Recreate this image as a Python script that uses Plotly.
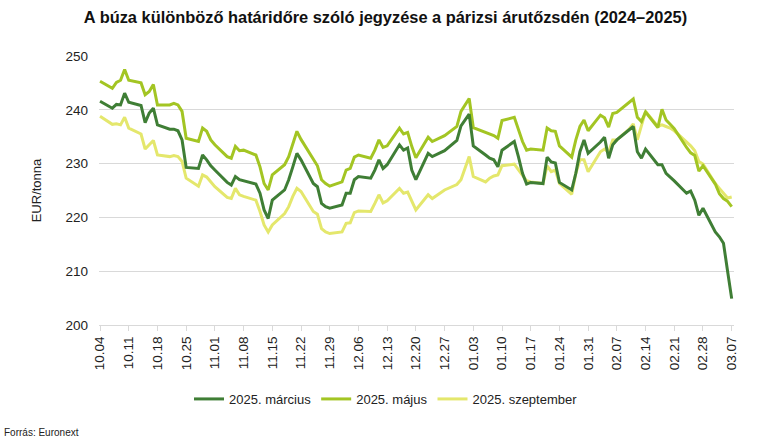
import plotly.graph_objects as go

dates = [
    "2024-10-04", "2024-10-07", "2024-10-08", "2024-10-09", "2024-10-10", "2024-10-11",
    "2024-10-14", "2024-10-15", "2024-10-16", "2024-10-17", "2024-10-18",
    "2024-10-21", "2024-10-22", "2024-10-23", "2024-10-24", "2024-10-25",
    "2024-10-28", "2024-10-29", "2024-10-30", "2024-10-31", "2024-11-01",
    "2024-11-04", "2024-11-05", "2024-11-06", "2024-11-07", "2024-11-08",
    "2024-11-11", "2024-11-12", "2024-11-13", "2024-11-14", "2024-11-15",
    "2024-11-18", "2024-11-19", "2024-11-20", "2024-11-21", "2024-11-22",
    "2024-11-25", "2024-11-26", "2024-11-27", "2024-11-28", "2024-11-29",
    "2024-12-02", "2024-12-03", "2024-12-04", "2024-12-05", "2024-12-06",
    "2024-12-09", "2024-12-10", "2024-12-11", "2024-12-12", "2024-12-13",
    "2024-12-16", "2024-12-17", "2024-12-18", "2024-12-19", "2024-12-20",
    "2024-12-23", "2024-12-24", "2024-12-27", "2024-12-30", "2024-12-31",
    "2025-01-02", "2025-01-03",
    "2025-01-06", "2025-01-07", "2025-01-08", "2025-01-09", "2025-01-10",
    "2025-01-13", "2025-01-14", "2025-01-15", "2025-01-16", "2025-01-17",
    "2025-01-20", "2025-01-21", "2025-01-22", "2025-01-23", "2025-01-24",
    "2025-01-27", "2025-01-28", "2025-01-29", "2025-01-30", "2025-01-31",
    "2025-02-03", "2025-02-04", "2025-02-05", "2025-02-06", "2025-02-07",
    "2025-02-10", "2025-02-11", "2025-02-12", "2025-02-13", "2025-02-14",
    "2025-02-17", "2025-02-18", "2025-02-19", "2025-02-20", "2025-02-21",
    "2025-02-24", "2025-02-25", "2025-02-26", "2025-02-27", "2025-02-28",
    "2025-03-03", "2025-03-04", "2025-03-05", "2025-03-06", "2025-03-07",
]

marcius = [
    241.6, 240.3, 241.0, 240.9, 243.1, 241.4,
    240.8, 237.6, 239.4, 240.3, 237.2,
    236.4, 236.4, 236.1, 234.4, 229.3,
    229.1, 231.6, 230.7, 229.6, 228.8,
    226.5, 226.0, 227.6, 227.0, 226.8,
    226.2, 224.5, 221.4, 219.8, 223.2,
    225.1, 227.0, 229.4, 231.9, 230.7,
    226.3, 225.7, 222.6, 222.0, 221.7,
    222.3, 224.5, 224.5, 227.0, 227.6,
    227.3, 228.8, 230.7, 229.1, 229.8,
    233.5, 232.5, 232.9, 228.8, 227.0,
    231.9, 231.3, 232.4, 234.3, 237.0,
    239.2, 233.3,
    231.6, 231.0, 230.7, 229.4, 232.5,
    234.1, 231.3, 228.2, 226.2, 226.5,
    226.3, 231.2, 230.3, 230.1, 226.5,
    225.1, 228.2, 232.2, 234.4, 231.9,
    234.0, 234.9, 231.0, 233.5, 234.4,
    236.4, 236.9, 232.2, 231.0, 232.7,
    229.8, 229.8, 228.2, 227.5, 226.8,
    224.5, 224.9, 223.2, 220.4, 221.7,
    217.3, 216.4, 215.2, 210.0, 204.9,
]

majus = [
    245.3, 244.0, 245.1, 245.5, 247.5, 245.5,
    245.0, 242.8, 243.4, 244.7, 240.9,
    240.9, 241.2, 240.9, 239.7, 234.7,
    234.1, 236.6, 236.0, 234.4, 233.5,
    231.3, 231.0, 233.2, 232.4, 232.5,
    231.6, 229.4, 226.3, 225.1, 227.9,
    229.8, 231.3, 233.5, 236.0, 234.5,
    230.7, 229.6, 227.0, 226.3, 225.8,
    226.6, 228.8, 229.1, 231.2, 231.6,
    231.0, 232.5, 234.4, 233.0, 233.3,
    236.6, 235.5, 235.8, 233.2, 231.1,
    234.9, 234.1, 235.2, 236.9, 239.7,
    242.1, 236.7,
    235.8, 235.5, 235.2, 234.7, 238.0,
    238.6, 236.3, 234.1, 232.5, 232.7,
    232.5, 236.6, 236.1, 236.0, 233.3,
    231.2, 234.4, 236.9, 238.1, 236.1,
    239.0, 238.5, 236.8, 239.3, 239.5,
    241.5, 242.0, 238.6, 237.8, 239.6,
    236.7, 240.1, 238.1, 237.3, 236.5,
    233.0, 232.0, 231.5, 228.6, 229.6,
    226.2, 224.4, 223.5, 223.0, 222.0,
]

szeptember = [
    238.8, 237.3, 237.4, 237.2, 238.6, 236.6,
    235.5, 232.7, 233.5, 234.3, 231.6,
    231.3, 231.5, 231.3, 230.4, 227.3,
    225.8, 227.9, 227.5, 226.6, 225.7,
    223.7, 223.5, 225.4, 224.2, 223.9,
    223.2, 221.1, 218.6, 217.3, 218.6,
    220.7, 222.0, 223.9, 225.4, 224.8,
    221.1, 220.6, 217.9, 217.3, 217.0,
    217.3, 218.9, 219.0, 220.9, 221.2,
    221.1, 222.6, 224.2, 222.7, 223.1,
    225.4, 224.5, 224.7, 222.9, 221.4,
    224.2, 223.5, 225.1, 226.1, 227.0,
    231.3, 227.6,
    226.6, 227.3, 227.7, 227.9, 229.6,
    229.9, 228.9, 227.9, 226.8, 226.6,
    226.3, 229.6, 228.5, 228.8, 226.3,
    224.3, 228.2, 230.7, 230.7, 228.5,
    232.2, 232.7, 232.1, 234.4, 234.4,
    236.4, 237.4, 234.4, 237.0, 239.7,
    236.9, 237.2, 236.9, 236.6, 236.1,
    234.1, 233.3, 232.4, 230.4, 229.9,
    226.3, 225.4, 224.5, 223.6, 223.8,
]

series_names = ["2025. március", "2025. május", "2025. szeptember"]
series_colors = ["#3f7e35", "#a3c523", "#e4e76c"]

FONT = "Liberation Sans, Arial, sans-serif"

fig = go.Figure()
# lighter series drawn first so the dark line sits on top
for name, vals, col in reversed(list(zip(series_names, [marcius, majus, szeptember], series_colors))):
    fig.add_trace(go.Scatter(
        x=dates, y=vals, name=name, mode="lines",
        line=dict(color=col, width=3),
    ))

fig.update_layout(
    width=771, height=447,
    margin=dict(l=99, r=37, t=56, b=122),
    paper_bgcolor="white", plot_bgcolor="white",
    font=dict(family=FONT, color="#222222", size=13),
    title=dict(
        text="<b>A búza különböző határidőre szóló jegyzése a párizsi árutőzsdén (2024–2025)</b>",
        x=0.5, xanchor="center", xref="container",
        y=1 - 17 / 447, yanchor="middle", yref="container",
        font=dict(size=16.4, color="#111111", family=FONT),
    ),
    showlegend=True,
    legend=dict(
        orientation="h", x=0.452, xanchor="center", y=-0.275, yanchor="middle",
        font=dict(size=13, color="#222222", family=FONT),
        traceorder="reversed", itemwidth=30, bgcolor="rgba(0,0,0,0)",
    ),
    xaxis=dict(
        type="date",
        range=["2024-10-03 18:00", "2025-03-07 13:30"],
        tick0="2024-10-04", dtick=7 * 86400000,
        tickformat="%m.%d", tickangle=-90,
        ticks="outside", ticklen=5, tickcolor="#d9d9d9",
        showline=True, linecolor="#d9d9d9", linewidth=1,
        showgrid=False, zeroline=False,
        tickfont=dict(size=13.5, color="#222222", family=FONT),
    ),
    yaxis=dict(
        range=[200, 250], dtick=10,
        showgrid=True, gridcolor="#d9d9d9", gridwidth=1,
        zeroline=False, showline=False, ticks="",
        ticklabelstandoff=10,
        tickfont=dict(size=13.5, color="#222222", family=FONT),
        title=dict(text="EUR/tonna", standoff=20,
                   font=dict(size=13, color="#222222", family=FONT)),
    ),
    annotations=[
        dict(text="Forrás: Euronext", xref="paper", yref="paper",
             x=(2 - 99) / 635, y=(325 - 432) / 269, xanchor="left", yanchor="middle",
             showarrow=False,
             font=dict(size=10, color="#222222", family=FONT)),
    ],
)

fig.write_html(
    "out.html",
    config={"displayModeBar": False},
    post_script="document.body.style.margin='0';document.body.style.padding='0';",
)
